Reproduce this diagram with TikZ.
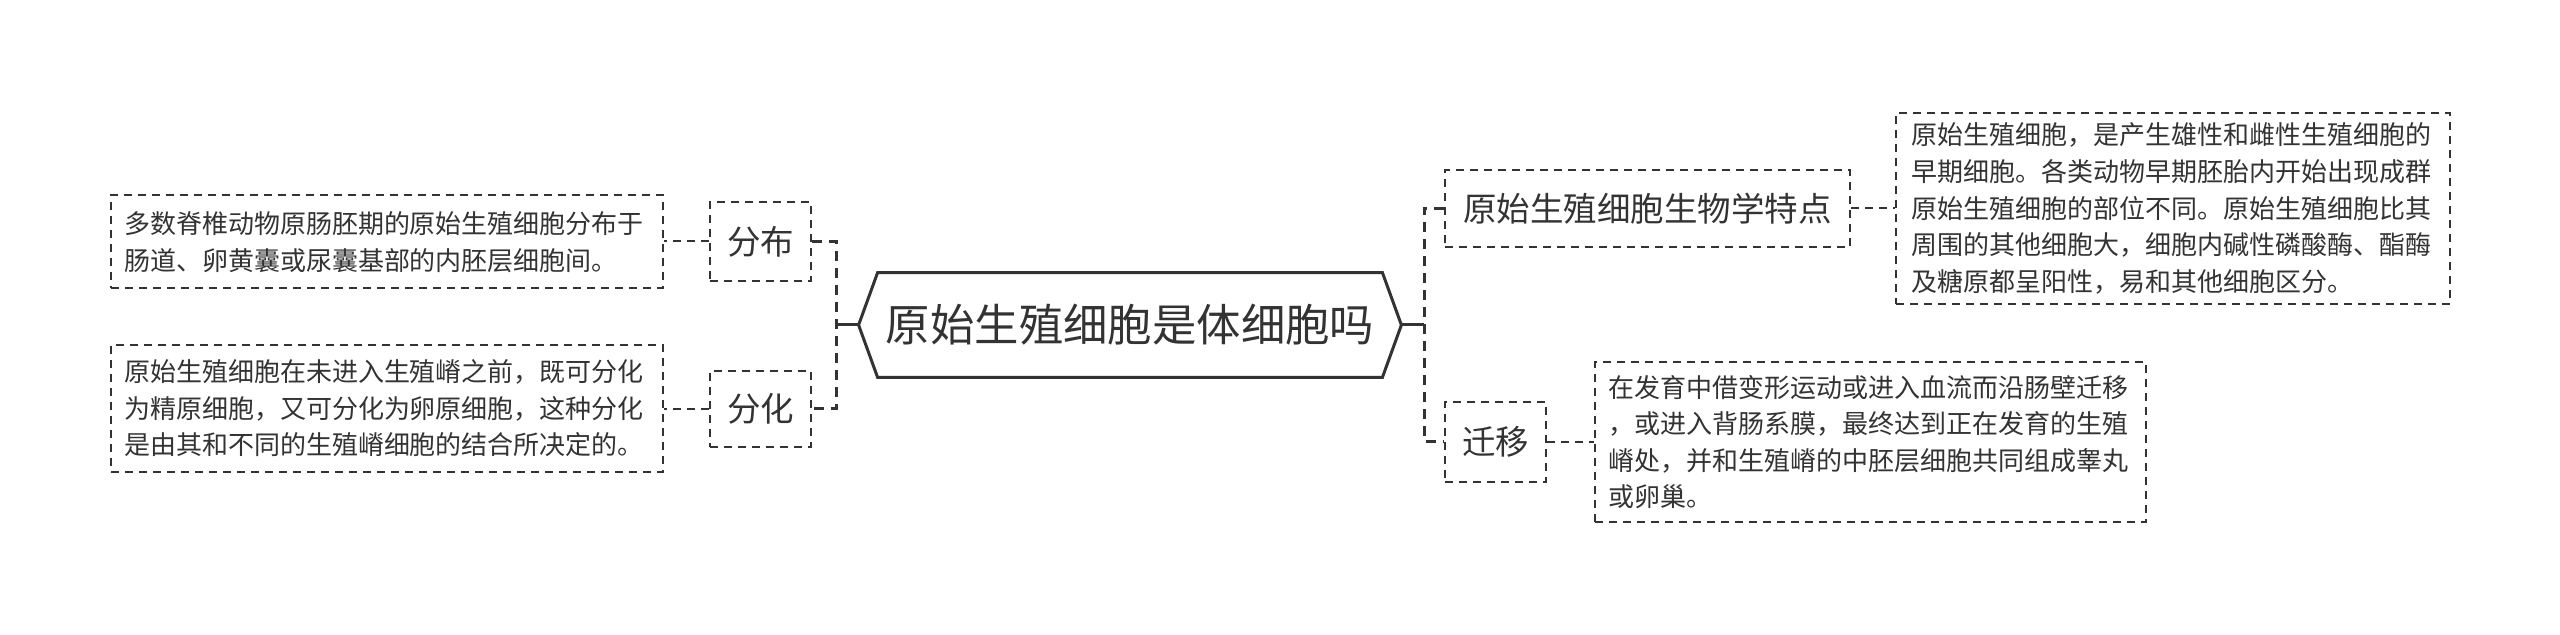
\documentclass[tikz,border=0pt]{standalone}
\usepackage{fontspec}
\setmainfont{Noto Sans CJK SC}
\definecolor{ink}{HTML}{333333}
\begin{document}
\begin{tikzpicture}[x=0.5pt,y=-0.5pt,
  box/.style={draw=ink, dash pattern=on 4pt off 3pt, line width=1pt, text=ink, inner sep=0pt, align=left, font=\fontsize{13}{18.3}\selectfont},
  topic/.style={draw=ink, dash pattern=on 4pt off 3pt, line width=1pt, text=ink, inner sep=0pt, font=\fontsize{16.75}{20}\selectfont},
  link/.style={draw=ink, dash pattern=on 4pt off 3pt, line width=1pt},
  trunk/.style={draw=ink, dash pattern=on 5pt off 3.5pt, line width=1.5pt},
  stem/.style={draw=ink, line width=1.5pt}]
\fill[white] (0,0) rectangle (2560,635);
\useasboundingbox (0,0) rectangle (2560,635);

% root
\node[minimum width=271pt, minimum height=52pt, inner sep=0pt, text=ink, font=\fontsize{22.2}{26}\selectfont] (root) at (1130,325) {原始生殖细胞是体细胞吗};
\draw[ink, line width=1.5pt] (root.west) -- ([xshift=9.5pt]root.north west) -- ([xshift=-9.5pt]root.north east) -- (root.east) -- ([xshift=-9.5pt]root.south east) -- ([xshift=9.5pt]root.south west) -- cycle;

% left side
\node[topic, minimum width=50.5pt, minimum height=39.5pt] (fb) at (760.5,241.5) {分布};
\node[topic, minimum width=50.5pt, minimum height=38pt] (fh) at (760.5,409) {分化};
\node[box, minimum width=276pt, minimum height=46.5pt, text width=263pt] (l1) at (387,242) {多数脊椎动物原肠胚期的原始生殖细胞分布于\\肠道、卵黄囊或尿囊基部的内胚层细胞间。};
\node[box, minimum width=276pt, minimum height=63.5pt, text width=263pt] (l2) at (387,408.5) {原始生殖细胞在未进入生殖嵴之前，既可分化\\为精原细胞，又可分化为卵原细胞，这种分化\\是由其和不同的生殖嵴细胞的结合所决定的。};

% right side
\node[topic, minimum width=202.5pt, minimum height=38.5pt] (td) at (1647.5,208.5) {原始生殖细胞生物学特点};
\node[topic, minimum width=50.5pt, minimum height=40pt] (qy) at (1495.5,442) {迁移};
\node[box, minimum width=277pt, minimum height=95.5pt, text width=262pt] (r1) at (2173,208.5) {原始生殖细胞，是产生雄性和雌性生殖细胞的\\早期细胞。各类动物早期胚胎内开始出现成群\\原始生殖细胞的部位不同。原始生殖细胞比其\\周围的其他细胞大，细胞内碱性磷酸酶、酯酶\\及糖原都呈阳性，易和其他细胞区分。};
\node[box, minimum width=275.5pt, minimum height=80pt, text width=262.5pt] (r2) at (1870.5,442) {在发育中借变形运动或进入血流而沿肠壁迁移\\，或进入背肠系膜，最终达到正在发育的生殖\\嵴处，并和生殖嵴的中胚层细胞共同组成睾丸\\或卵巢。};

% connectors
\coordinate (lj) at (836,325);
\coordinate (rj) at (1424,325);
\draw[stem] (root.west) -- (lj);
\draw[stem] (root.east) -- (rj);
\draw[trunk] (fb.east) -- (fb.east -| lj) -- (fh.east -| lj) -- (fh.east);
\draw[trunk] (td.west) -- (td.west -| rj) -- (qy.west -| rj) -- (qy.west);
\draw[link] (fb.west) -- (fb.west -| l1.east);
\draw[link] (fh.west) -- (fh.west -| l2.east);
\draw[link] (td.east) -- (r1.west);
\draw[link] (qy.east) -- (r2.west);
\end{tikzpicture}
\end{document}
